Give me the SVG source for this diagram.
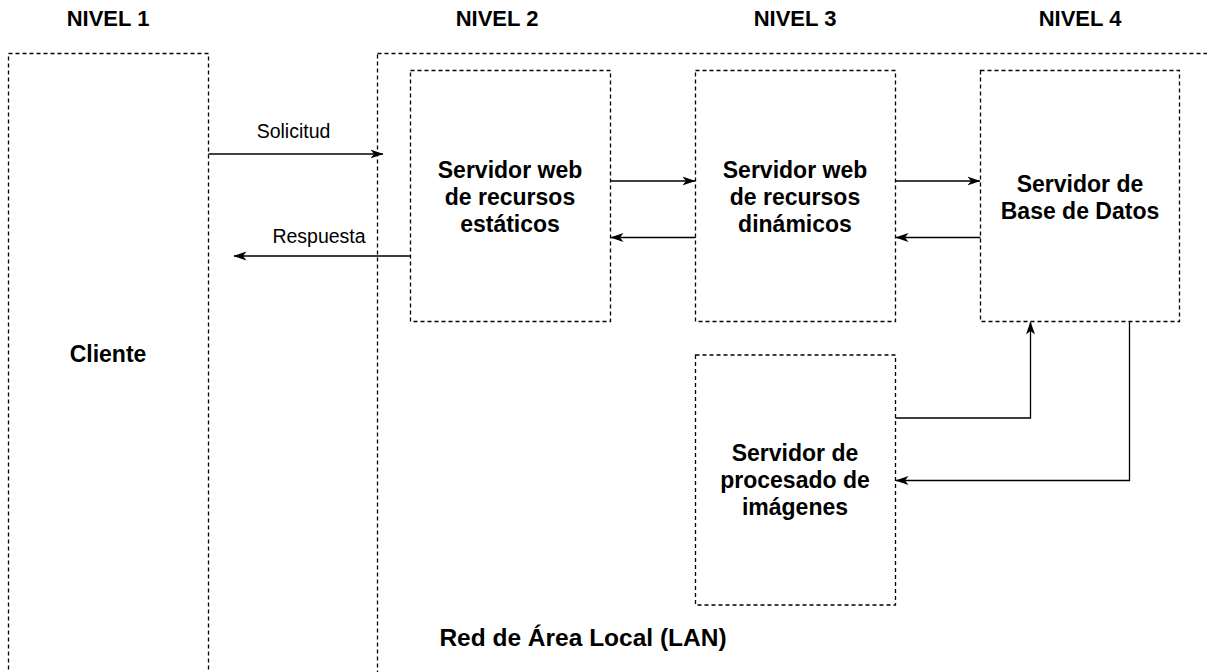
<svg xmlns="http://www.w3.org/2000/svg" width="1207" height="672" viewBox="0 0 1207 672">
  <style>
    .box { fill: #fff; stroke: #000; stroke-width: 1.3; stroke-dasharray: 4 3; }
    .zone { fill: none; stroke: #000; stroke-width: 1.3; stroke-dasharray: 4 3; }
    .edge { fill: none; stroke: #000; stroke-width: 1.3; marker-end: url(#arrow); }
    .hdr { font-family: "Liberation Sans", Arial, sans-serif; font-weight: bold; font-size: 22px; text-anchor: middle; fill: #000; }
    .lbl { font-family: "Liberation Sans", Arial, sans-serif; font-weight: bold; font-size: 23px; text-anchor: middle; fill: #000; }
    .lan { font-family: "Liberation Sans", Arial, sans-serif; font-weight: bold; font-size: 24.5px; text-anchor: middle; fill: #000; }
    .elbl { font-family: "Liberation Sans", Arial, sans-serif; font-size: 19.5px; text-anchor: middle; fill: #000; }
  </style>
  <defs>
    <marker id="arrow" viewBox="0 0 13 10" refX="12.5" refY="5" markerWidth="13" markerHeight="10" markerUnits="userSpaceOnUse" orient="auto">
      <path d="M0,0.5 L13,5 L0,9.5 L3.5,5 Z" fill="#000"/>
    </marker>
  </defs>
  <rect width="1207" height="672" fill="#fff"/>

  <!-- level headers -->
  <text class="hdr" x="108" y="26">NIVEL 1</text>
  <text class="hdr" x="497" y="26">NIVEL 2</text>
  <text class="hdr" x="795" y="26">NIVEL 3</text>
  <text class="hdr" x="1080" y="26">NIVEL 4</text>

  <!-- client zone -->
  <g id="cliente">
    <rect class="zone" x="8.5" y="53.5" width="200" height="640"/>
    <text class="lbl" x="108" y="362">Cliente</text>
  </g>

  <!-- local network zone -->
  <g id="lan">
    <rect class="zone" x="377.5" y="53.5" width="850" height="640"/>
    <text class="lan" x="583" y="646">Red de Área Local (LAN)</text>
  </g>

  <g id="estaticos">
    <rect class="box" x="410.5" y="70.5" width="200" height="251"/>
    <text class="lbl" x="510" y="177.5">Servidor web</text>
    <text class="lbl" x="510" y="204.5">de recursos</text>
    <text class="lbl" x="510" y="231.5">estáticos</text>
  </g>

  <g id="dinamicos">
    <rect class="box" x="695.5" y="70.5" width="200" height="251"/>
    <text class="lbl" x="795" y="177.5">Servidor web</text>
    <text class="lbl" x="795" y="204.5">de recursos</text>
    <text class="lbl" x="795" y="231.5">dinámicos</text>
  </g>

  <g id="basedatos">
    <rect class="box" x="980.5" y="70.5" width="199" height="251"/>
    <text class="lbl" x="1080" y="191.5">Servidor de</text>
    <text class="lbl" x="1080" y="218.5">Base de Datos</text>
  </g>

  <g id="imagenes">
    <rect class="box" x="695.5" y="355" width="200" height="250"/>
    <text class="lbl" x="795" y="460.5">Servidor de</text>
    <text class="lbl" x="795" y="487.5">procesado de</text>
    <text class="lbl" x="795" y="514.5">imágenes</text>
  </g>

  <!-- connectors -->
  <g id="connectors">
    <path class="edge" d="M208.5,154 H383"/>
    <text class="elbl" x="293.5" y="138">Solicitud</text>
    <path class="edge" d="M410.5,256 H234"/>
    <text class="elbl" x="319" y="243">Respuesta</text>

    <path class="edge" d="M610.5,181 H695"/>
    <path class="edge" d="M695.5,237.5 H611"/>
    <path class="edge" d="M895.5,181 H980"/>
    <path class="edge" d="M980.5,237.5 H896"/>

    <path class="edge" d="M895.5,418 H1030.5 V322"/>
    <path class="edge" d="M1129.5,321.5 V480.5 H896"/>
  </g>
</svg>
